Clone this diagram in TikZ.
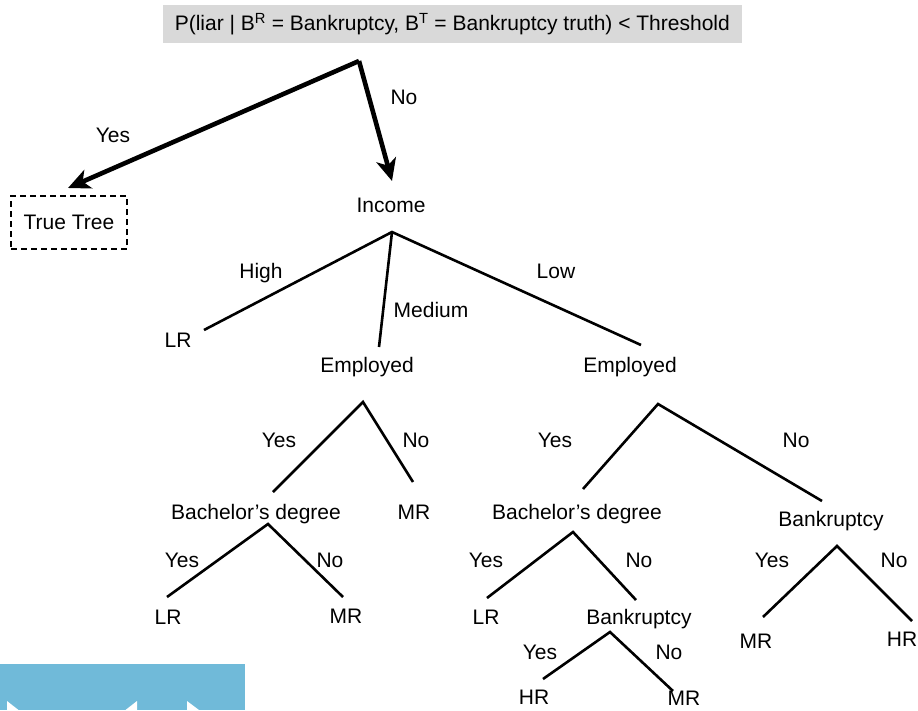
\documentclass[tikz,border=0pt]{standalone}
\usepackage{fontspec}
\setmainfont{Liberation Sans}
\usetikzlibrary{arrows.meta}
\definecolor{hdrgray}{HTML}{D9D9D9}
\definecolor{tabblue}{HTML}{70BAD9}
\begin{document}
\begin{tikzpicture}[x=1pt,y=-1pt,
  txt/.style={inner sep=0pt,text height=15pt,text depth=0pt,font=\fontsize{21}{25}\selectfont},
  edge/.style={line width=2.6pt},
  bigarrow/.style={line width=4.6pt,-{Stealth[length=22pt,width=20pt,inset=6pt]}},
  ttbox/.style={draw,dashed,dash pattern=on 6pt off 4pt,line width=2pt,minimum width=116pt,minimum height=53pt,inner sep=0pt,font=\fontsize{21}{25}\selectfont}]
\useasboundingbox (0,0) rectangle (918,710);
\clip (0,0) rectangle (918,710);

% header question
\node[fill=hdrgray,anchor=east,minimum height=38pt,inner xsep=12pt,inner ysep=0pt,font=\fontsize{21}{25}\selectfont] (hdr) at (742,24)
  {P(liar | B\textsuperscript{R} = Bankruptcy, B\textsuperscript{T} = Bankruptcy truth) < Threshold};

% root split
\coordinate (root) at (359,61);
\coordinate (ttTip) at (68,188);
\coordinate (incTip) at (392,181);
\node[ttbox] (tt) at (69,222.5) {True Tree};
\node[txt] (inc) at (391,205) {Income};
\draw[bigarrow] (root) -- (ttTip);
\draw[bigarrow] (root) -- (incTip);
\node[txt] (lYesRoot) at (113,135) {Yes};
\node[txt] (lNoRoot) at (404,97) {No};

% income split
\coordinate (incA) at (392,232);
\coordinate (incH) at (204,330);
\coordinate (incM) at (379,347);
\coordinate (incL) at (641,345);
\draw[edge] (incH) -- (incA) -- (incL);
\draw[edge] (incA) -- (incM);
\node[txt] (lHigh) at (261,271) {High};
\node[txt] (lMed) at (431,310) {Medium};
\node[txt] (lLow) at (556,271) {Low};
\node[txt] (lr1) at (178,340) {LR};
\node[txt] (empL) at (367,365) {Employed};
\node[txt] (empR) at (630,365) {Employed};

% employed (medium income)
\coordinate (eLA) at (363,402);
\coordinate (eLY) at (273,492);
\coordinate (eLN) at (413,482);
\draw[edge] (eLY) -- (eLA) -- (eLN);
\node[txt] (lY1) at (279,440) {Yes};
\node[txt] (lN1) at (416,440) {No};
\node[txt] (bachL) at (256,512) {Bachelor’s degree};
\node[txt] (mr1) at (414,512) {MR};

\coordinate (bLA) at (268,524);
\coordinate (bLY) at (167,597);
\coordinate (bLN) at (343,597);
\draw[edge] (bLY) -- (bLA) -- (bLN);
\node[txt] (lY2) at (182,560) {Yes};
\node[txt] (lN2) at (330,560) {No};
\node[txt] (lr2) at (168,617) {LR};
\node[txt] (mr2) at (346,616) {MR};

% employed (low income)
\coordinate (eRA) at (658,404);
\coordinate (eRY) at (583,489);
\coordinate (eRN) at (822,501);
\draw[edge] (eRY) -- (eRA) -- (eRN);
\node[txt] (lY3) at (555,440) {Yes};
\node[txt] (lN3) at (796,440) {No};
\node[txt] (bachR) at (577,512) {Bachelor’s degree};
\node[txt] (bankR) at (831,519) {Bankruptcy};

\coordinate (bRA) at (573,532);
\coordinate (bRY) at (487,598);
\coordinate (bRN) at (636,600);
\draw[edge] (bRY) -- (bRA) -- (bRN);
\node[txt] (lY4) at (486,560) {Yes};
\node[txt] (lN4) at (639,560) {No};
\node[txt] (lr3) at (486,617) {LR};
\node[txt] (bankM) at (639,617) {Bankruptcy};

\coordinate (kMA) at (610,632);
\coordinate (kMY) at (543,679);
\coordinate (kMN) at (673,691);
\draw[edge] (kMY) -- (kMA) -- (kMN);
\node[txt] (lY5) at (540,652) {Yes};
\node[txt] (lN5) at (669,652) {No};
\node[txt] (hr1) at (534,697) {HR};
\node[txt] (mr3) at (684,698) {MR};

\coordinate (kRA) at (837,546);
\coordinate (kRY) at (763,617);
\coordinate (kRN) at (912,621);
\draw[edge] (kRY) -- (kRA) -- (kRN);
\node[txt] (lY6) at (772,560) {Yes};
\node[txt] (lN6) at (894,560) {No};
\node[txt] (mr4) at (756,641) {MR};
\node[txt] (hr2) at (902,639) {HR};

% navigation tab in the lower left corner
\begin{scope}
  \clip (0,664) rectangle (245,710);
  \fill[tabblue] (0,664) rectangle (245,710);
  \fill[white] (7,701) -- (30,719) -- (7,740) -- cycle;
  \fill[white] (137,701) -- (114,719) -- (137,740) -- cycle;
  \fill[white] (187,701) -- (211,719) -- (187,740) -- cycle;
\end{scope}
\end{tikzpicture}
\end{document}
